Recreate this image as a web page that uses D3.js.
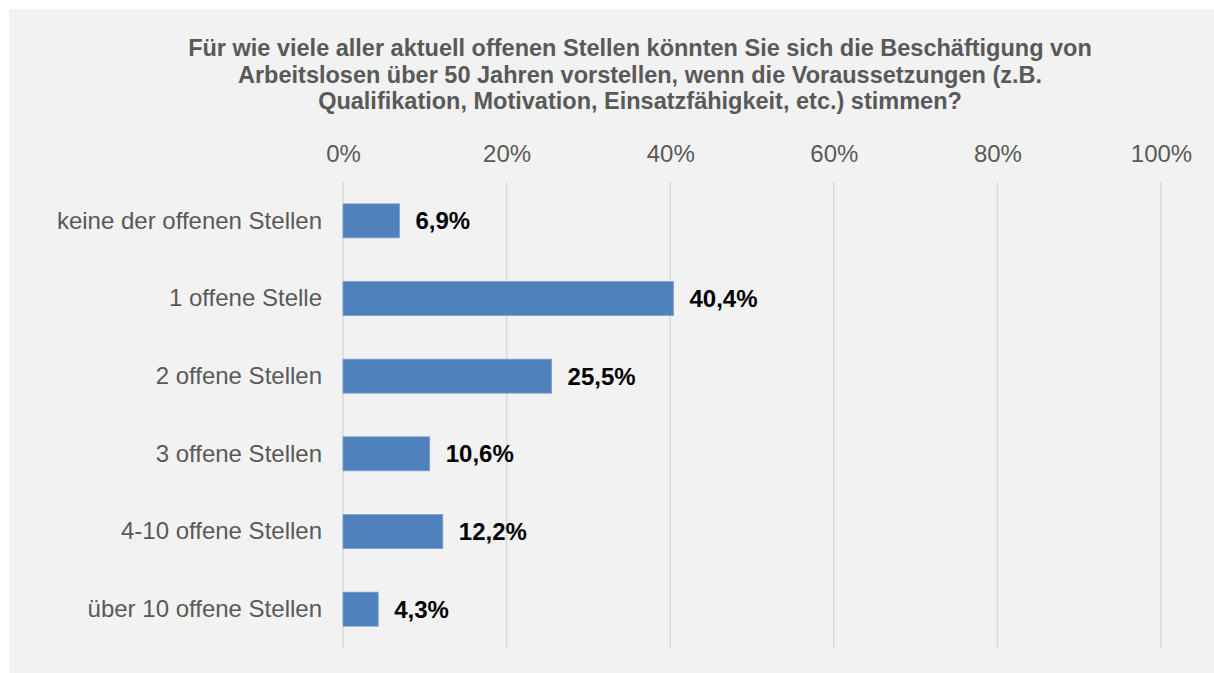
<!DOCTYPE html>
<html lang="de">
<head>
<meta charset="utf-8">
<script src="https://cdn.jsdelivr.net/npm/d3@7"></script>
<style>
  html, body { margin: 0; padding: 0; background: #ffffff; }
  svg { display: block; }
  text { font-family: "Liberation Sans", Arial, sans-serif; }
</style>
</head>
<body>
<svg id="chart" width="1214" height="673"></svg>
<script>
// Survey answers (share of respondents, in percent)
const categories = [
  "keine der offenen Stellen",
  "1 offene Stelle",
  "2 offene Stellen",
  "3 offene Stellen",
  "4-10 offene Stellen",
  "über 10 offene Stellen"
];
const shares = [6.9, 40.4, 25.5, 10.6, 12.2, 4.3];
const tickValues = [0, 20, 40, 60, 80, 100];
const titleLines = [
  "Für wie viele aller aktuell offenen Stellen könnten Sie sich die Beschäftigung von",
  "Arbeitslosen über 50 Jahren vorstellen, wenn die Voraussetzungen (z.B.",
  "Qualifikation, Motivation, Einsatzfähigkeit, etc.) stimmen?"
];

const W = 1214, H = 673;
const svg = d3.select("#chart");

// chart area background
svg.append("rect")
  .attr("x", 9).attr("y", 9)
  .attr("width", W - 9).attr("height", H - 9)
  .attr("fill", "#f2f2f2");

// title
svg.append("g")
  .selectAll("text")
  .data(titleLines)
  .join("text")
  .attr("x", 640)
  .attr("y", (d, i) => 56 + i * 26.5)
  .attr("text-anchor", "middle")
  .attr("font-size", "23.5px")
  .attr("font-weight", "bold")
  .attr("fill", "#595959")
  .text(d => d);

const plotLeft = 343, plotRight = 1161, plotTop = 182, plotBottom = 648;

const x = d3.scaleLinear().domain([0, 100]).range([plotLeft, plotRight]);
const y = d3.scaleBand()
  .domain(categories)
  .range([plotTop, plotBottom])
  .paddingInner(0.5625)
  .paddingOuter(0.28125);

// vertical gridlines
svg.append("g")
  .selectAll("line")
  .data(tickValues)
  .join("line")
  .attr("x1", d => x(d)).attr("x2", d => x(d))
  .attr("y1", plotTop).attr("y2", plotBottom)
  .attr("stroke", "#d9d9d9")
  .attr("stroke-width", 1.5);

// top axis labels
const xAxis = d3.axisTop(x)
  .tickValues(tickValues)
  .tickFormat(d => d + "%")
  .tickSize(0)
  .tickPadding(0);
const gx = svg.append("g")
  .attr("transform", `translate(0, 162)`)
  .call(xAxis);
gx.select(".domain").remove();
gx.selectAll("text")
  .attr("font-size", "24px")
  .attr("font-family", "\"Liberation Sans\", Arial, sans-serif")
  .attr("fill", "#595959")
  .attr("dy", 0);

// category axis
const yAxis = d3.axisLeft(y).tickSize(0).tickPadding(21);
const gy = svg.append("g")
  .attr("transform", `translate(${plotLeft}, 0)`)
  .call(yAxis);
gy.select(".domain").remove();
gy.selectAll("text")
  .attr("font-size", "24px")
  .attr("font-family", "\"Liberation Sans\", Arial, sans-serif")
  .attr("fill", "#595959");

// bars
svg.append("g")
  .selectAll("rect")
  .data(shares)
  .join("rect")
  .attr("x", x(0))
  .attr("y", (d, i) => y(categories[i]))
  .attr("width", d => x(d) - x(0))
  .attr("height", y.bandwidth())
  .attr("fill", "#4f81bd")
  .attr("stroke", "#7ba0cf")
  .attr("stroke-width", 0.8);

// value labels
svg.append("g")
  .selectAll("text")
  .data(shares)
  .join("text")
  .attr("x", d => x(d) + 16)
  .attr("y", (d, i) => y(categories[i]) + y.bandwidth() / 2)
  .attr("dy", "0.35em")
  .attr("font-size", "24px")
  .attr("font-weight", "bold")
  .attr("fill", "#000000")
  .text(d => d.toFixed(1).replace(".", ",") + "%");
</script>
</body>
</html>
